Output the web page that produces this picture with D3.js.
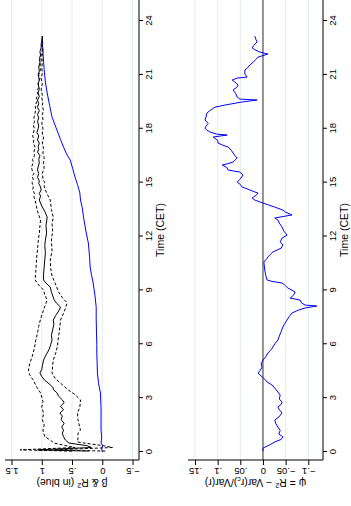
<!DOCTYPE html>
<html>
<head>
<meta charset="utf-8">
<script src="https://cdn.jsdelivr.net/npm/d3@7"></script>
<style>
  html, body { margin: 0; padding: 0; background: #fff; }
  svg { display: block; }
  text { font-family: "Liberation Sans", Arial, Helvetica, sans-serif; fill: #000; }
</style>
</head>
<body>
<svg id="chart" width="351" height="506"></svg>
<script>
// Tick values and labels
const hourTicks = [0, 3, 6, 9, 12, 15, 18, 21, 24];
const betaTicks = [-0.5, 0, 0.5, 1, 1.5];
const betaTickLabels = ["\u2212.5", "0", ".5", "1", "1.5"];
const psiTicks = [-0.1, -0.05, 0, 0.05, 0.1, 0.15];
const psiTickLabels = ["\u2212.1", "\u2212.05", "0", ".05", ".1", ".15"];

// Intraday beta estimate, [hour, value]
const beta = [[0.05,0.22],[0.12,1.07],[0.25,0.18],[0.35,0.25],[0.5,0.55],[0.67,0.61],[0.85,0.64],[1.05,0.66],[1.22,0.64],[1.39,0.67],[1.6,0.63],[1.8,0.68],[2.0,0.66],[2.17,0.70],[2.35,0.64],[2.55,0.69],[2.75,0.63],[2.9,0.66],[3.1,0.72],[3.3,0.75],[3.45,0.80],[3.62,0.82],[3.8,0.88],[4.0,0.95],[4.2,1.0],[4.4,1.03],[4.6,1.0],[4.8,0.99],[5.12,0.97],[5.4,0.93],[5.7,0.88],[6.0,0.85],[6.24,0.83],[6.5,0.84],[6.8,0.82],[7.1,0.80],[7.35,0.81],[7.6,0.77],[7.85,0.72],[8.07,0.69],[8.3,0.76],[8.5,0.80],[8.63,0.81],[8.9,0.84],[9.19,0.86],[9.4,0.93],[9.58,0.97],[9.9,0.97],[10.3,0.96],[10.7,0.95],[11.1,0.94],[11.5,0.95],[11.8,0.94],[12.2,0.92],[12.6,0.93],[13.08,0.91],[13.4,0.95],[13.7,1.0],[14.03,1.04],[14.25,1.02],[14.4,1.04],[14.6,1.01],[14.76,1.02],[14.95,1.05],[15.1,1.04],[15.3,1.07],[15.5,1.05],[15.7,1.07],[15.87,1.06],[16.1,1.04],[16.3,1.05],[16.5,1.03],[16.7,1.07],[16.85,1.05],[17.0,1.06],[17.2,1.04],[17.37,1.07],[17.6,1.05],[17.8,1.08],[18.0,1.06],[18.2,1.05],[18.4,1.07],[18.6,1.05],[18.8,1.07],[19.0,1.04],[19.2,1.07],[19.4,1.05],[19.6,1.07],[19.8,1.04],[20.0,1.06],[20.2,1.04],[20.5,1.06],[20.7,1.04],[21.0,1.06],[21.2,1.04],[21.44,1.05],[21.7,1.03],[21.9,1.04],[22.1,1.02],[22.3,1.03],[22.5,1.01],[22.7,1.01],[22.9,1.0],[23.16,0.99]];

// Upper confidence bound of beta
const betaUpper = [[0.05,0.5],[0.12,1.36],[0.25,0.45],[0.35,0.6],[0.5,0.8],[0.67,0.86],[0.85,0.95],[1.06,0.97],[1.22,0.98],[1.5,0.96],[1.8,0.99],[2.17,0.97],[2.5,1.0],[2.8,0.98],[3.05,1.0],[3.29,1.02],[3.6,1.08],[4.0,1.14],[4.3,1.2],[4.57,1.22],[4.9,1.2],[5.3,1.16],[5.8,1.12],[6.2,1.1],[6.63,1.07],[7.0,1.05],[7.4,1.02],[7.91,0.97],[8.2,0.94],[8.46,0.91],[8.75,0.95],[9.02,0.97],[9.3,1.05],[9.58,1.11],[10.0,1.1],[10.5,1.09],[11.0,1.08],[11.25,1.07],[11.7,1.06],[12.2,1.04],[12.6,1.03],[12.92,1.02],[13.3,1.06],[13.7,1.09],[14.03,1.11],[14.2,1.13],[14.4,1.12],[14.6,1.15],[14.76,1.14],[15.0,1.16],[15.2,1.14],[15.35,1.16],[15.5,1.13],[15.7,1.16],[15.87,1.17],[16.1,1.14],[16.3,1.15],[16.5,1.12],[16.7,1.13],[16.98,1.11],[17.2,1.14],[17.4,1.13],[17.6,1.15],[17.76,1.14],[18.0,1.12],[18.2,1.14],[18.4,1.12],[18.6,1.13],[18.88,1.11],[19.1,1.10],[19.3,1.11],[19.5,1.08],[19.7,1.09],[19.9,1.06],[20.1,1.08],[20.3,1.05],[20.55,1.06],[20.8,1.03],[21.0,1.05],[21.3,1.02],[21.5,1.03],[21.8,1.01],[22.0,1.02],[22.38,0.99],[22.6,1.0],[22.8,0.99],[23.16,0.99]];

// Lower confidence bound of beta
const betaLower = [[0.05,-0.05],[0.12,0.78],[0.25,-0.17],[0.35,-0.02],[0.5,0.3],[0.56,0.41],[0.8,0.40],[1.06,0.40],[1.22,0.36],[1.5,0.38],[1.8,0.40],[2.17,0.41],[2.5,0.37],[2.9,0.36],[3.2,0.45],[3.45,0.56],[3.8,0.68],[4.1,0.78],[4.4,0.83],[4.8,0.82],[5.12,0.81],[5.5,0.77],[5.9,0.74],[6.24,0.73],[6.7,0.71],[7.0,0.70],[7.35,0.69],[7.8,0.63],[8.3,0.58],[8.6,0.66],[8.9,0.72],[9.41,0.78],[9.8,0.83],[10.2,0.85],[10.69,0.86],[11.2,0.83],[11.8,0.84],[12.3,0.82],[12.7,0.83],[13.08,0.81],[13.5,0.84],[14.03,0.86],[14.3,0.90],[14.59,0.94],[14.8,0.96],[15.0,0.95],[15.2,0.98],[15.53,0.99],[15.8,0.96],[16.1,0.97],[16.4,0.96],[16.65,0.98],[16.9,0.97],[17.2,0.99],[17.5,0.97],[17.76,0.99],[18.0,0.98],[18.3,1.0],[18.5,0.98],[18.8,0.99],[19.0,0.97],[19.3,0.99],[19.5,0.98],[19.7,1.0],[19.9,0.99],[20.2,1.01],[20.5,0.99],[20.8,1.01],[21.1,0.99],[21.4,1.0],[21.7,0.99],[22.0,1.0],[22.3,0.98],[22.6,0.99],[22.9,0.99],[23.16,0.99]];

// R-squared through the day
const rSquared = [[0.0,0.0],[0.2,0.01],[0.35,-0.01],[0.5,0.02],[0.8,0.01],[1.22,0.02],[2.0,0.02],[2.5,0.02],[3.29,0.03],[3.8,0.06],[4.4,0.08],[5.0,0.085],[5.5,0.09],[6.0,0.09],[6.63,0.095],[7.4,0.1],[8.07,0.10],[8.7,0.12],[9.41,0.15],[9.9,0.18],[10.3,0.20],[10.9,0.21],[11.64,0.23],[12.3,0.27],[13.08,0.31],[13.6,0.33],[14.03,0.36],[14.42,0.37],[14.9,0.41],[15.31,0.45],[15.8,0.49],[16.26,0.53],[16.6,0.59],[16.98,0.64],[17.4,0.69],[17.76,0.73],[18.2,0.78],[18.65,0.83],[19.3,0.87],[19.99,0.91],[20.6,0.94],[21.3,0.96],[22.0,0.975],[22.6,0.985],[23.16,0.99]];

// psi = R^2 - Var(r_c)/Var(r)
const psi = [[0.05,0.0],[0.22,0.0],[0.4,-0.015],[0.56,-0.026],[0.7,-0.04],[0.84,-0.044],[1.0,-0.035],[1.2,-0.038],[1.39,-0.033],[1.6,-0.028],[1.78,-0.026],[1.95,-0.035],[2.17,-0.042],[2.35,-0.036],[2.51,-0.033],[2.65,-0.04],[2.78,-0.042],[2.95,-0.036],[3.17,-0.038],[3.34,-0.033],[3.5,-0.028],[3.73,-0.02],[3.9,-0.009],[4.05,-0.004],[4.18,0.002],[4.4,0.011],[4.55,0.006],[4.73,0.002],[4.9,0.004],[5.12,0.0],[5.3,-0.006],[5.51,-0.011],[5.7,-0.018],[5.85,-0.022],[6.05,-0.027],[6.24,-0.033],[6.45,-0.036],[6.7,-0.04],[6.96,-0.044],[7.15,-0.048],[7.35,-0.053],[7.55,-0.058],[7.74,-0.064],[7.9,-0.078],[8.02,-0.093],[8.13,-0.119],[8.18,-0.093],[8.3,-0.085],[8.46,-0.082],[8.57,-0.06],[8.75,-0.068],[8.91,-0.071],[9.13,-0.055],[9.3,-0.048],[9.41,-0.042],[9.5,-0.02],[9.58,-0.009],[9.85,-0.006],[10.13,-0.004],[10.35,-0.003],[10.58,-0.002],[10.75,-0.008],[10.86,-0.011],[11.0,-0.016],[11.14,-0.022],[11.35,-0.04],[11.53,-0.044],[11.7,-0.038],[11.91,-0.042],[12.08,-0.053],[12.3,-0.046],[12.53,-0.042],[12.75,-0.036],[12.92,-0.033],[13.03,-0.026],[13.2,-0.064],[13.35,-0.05],[13.47,-0.044],[13.64,-0.026],[13.76,-0.012],[13.86,0.0],[14.03,0.018],[14.14,0.024],[14.3,0.015],[14.42,0.011],[14.48,0.018],[14.6,0.03],[14.7,0.04],[14.75,0.046],[14.9,0.05],[15.03,0.057],[15.2,0.05],[15.42,0.044],[15.59,0.051],[15.7,0.077],[15.85,0.08],[15.98,0.09],[16.07,0.075],[16.15,0.066],[16.3,0.06],[16.37,0.057],[16.5,0.062],[16.65,0.066],[16.8,0.07],[16.98,0.077],[17.1,0.09],[17.2,0.099],[17.35,0.1],[17.54,0.110],[17.65,0.079],[17.7,0.102],[17.82,0.117],[17.95,0.125],[18.04,0.128],[18.2,0.124],[18.3,0.121],[18.49,0.128],[18.7,0.125],[18.87,0.124],[19.05,0.115],[19.2,0.106],[19.32,0.084],[19.49,0.046],[19.6,0.013],[19.65,0.051],[19.77,0.057],[19.95,0.06],[20.16,0.066],[20.3,0.058],[20.43,0.055],[20.6,0.062],[20.71,0.068],[20.82,0.057],[20.88,0.035],[21.05,0.04],[21.27,0.04],[21.4,0.034],[21.55,0.029],[21.7,0.022],[21.85,0.016],[21.99,0.011],[22.16,-0.011],[22.27,0.007],[22.4,0.018],[22.5,0.024],[22.65,0.02],[22.83,0.013],[23.0,0.016],[23.16,0.018]];

// The figure is laid out landscape (W x H) and turned a quarter turn onto the page.
const W = 506, H = 351;
const svg = d3.select("#chart");
const root = svg.append("g").attr("transform", `translate(0,${W}) rotate(-90)`);

const plotX0 = 46, plotX1 = 506;
const x = d3.scaleLinear().domain([0, 24]).range([54, 485]);

const gridColor = "#e3eced";
const tickFont = 9.5, titleFont = 10.5;

function drawPanel(cfg) {
  const g = root.append("g");
  const y = cfg.y;

  // horizontal grid at each value tick
  g.append("g").selectAll("line").data(cfg.ticks).join("line")
    .attr("x1", plotX0).attr("x2", plotX1)
    .attr("y1", d => y(d)).attr("y2", d => y(d))
    .attr("stroke", gridColor).attr("stroke-width", 1);

  if (cfg.zeroLine) {
    g.append("line")
      .attr("x1", plotX0).attr("x2", plotX1)
      .attr("y1", y(0)).attr("y2", y(0))
      .attr("stroke", "#333").attr("stroke-width", 1);
  }

  // series
  const line = d3.line().x(d => x(d[0])).y(d => y(d[1]));
  cfg.series.forEach(s => {
    g.append("path").datum(s.data)
      .attr("d", line)
      .attr("fill", "none")
      .attr("stroke", s.color)
      .attr("stroke-width", 1)
      .attr("stroke-dasharray", s.dash || null)
      .attr("stroke-linejoin", "round");
  });

  // value axis
  const ya = g.append("g").attr("transform", `translate(${plotX0},0)`)
    .call(d3.axisLeft(y).tickValues(cfg.ticks)
      .tickFormat((d, i) => cfg.tickLabels[i]).tickSize(5));
  ya.select(".domain").remove();
  ya.selectAll(".tick line").attr("stroke", "#000");
  ya.selectAll(".tick text")
    .attr("x", null).attr("dy", null)
    .attr("text-anchor", "middle")
    .attr("font-size", tickFont)
    .attr("transform", "translate(-8,0) rotate(-90)");
  g.append("line")
    .attr("x1", plotX0).attr("x2", plotX0)
    .attr("y1", cfg.top).attr("y2", cfg.bottom)
    .attr("stroke", "#000").attr("stroke-width", 1);

  const title = g.append("text")
    .attr("transform", `translate(27,${(cfg.top + cfg.bottom) / 2}) rotate(-90)`)
    .attr("text-anchor", "middle")
    .attr("font-size", titleFont);
  cfg.title(title);

  // time axis
  const xa = g.append("g").attr("transform", `translate(0,${cfg.bottom})`)
    .call(d3.axisBottom(x).tickValues(hourTicks).tickFormat(d3.format("d")).tickSize(4));
  xa.select(".domain").remove();
  xa.selectAll(".tick line").attr("stroke", "#000");
  xa.selectAll(".tick text").attr("font-size", tickFont).attr("y", 6);
  g.append("line")
    .attr("x1", plotX0).attr("x2", plotX1)
    .attr("y1", cfg.bottom).attr("y2", cfg.bottom)
    .attr("stroke", "#000").attr("stroke-width", 1);
  g.append("text")
    .attr("x", (plotX0 + plotX1) / 2).attr("y", cfg.bottom + 25)
    .attr("text-anchor", "middle")
    .attr("font-size", titleFont)
    .text("Time (CET)");
}

// Panel 1: beta with confidence band, R-squared in blue
drawPanel({
  top: 5, bottom: 139,
  y: d3.scaleLinear().domain([-0.5, 1.5]).range([132.5, 11.5]),
  ticks: betaTicks, tickLabels: betaTickLabels,
  series: [
    { data: rSquared, color: "#0000ff" },
    { data: betaUpper, color: "#000", dash: "3,2" },
    { data: betaLower, color: "#000", dash: "3,2" },
    { data: beta, color: "#000" }
  ],
  title: t => {
    t.append("tspan").text("\u03b2 & R");
    t.append("tspan").attr("font-size", 7).attr("dy", -4).text("2");
    t.append("tspan").attr("dy", 4).text(" (in blue)");
  }
});

// Panel 2: psi
drawPanel({
  top: 188, bottom: 323,
  y: d3.scaleLinear().domain([-0.1, 0.15]).range([308.3, 195]),
  ticks: psiTicks, tickLabels: psiTickLabels,
  zeroLine: true,
  series: [{ data: psi, color: "#0000ff" }],
  title: t => {
    t.append("tspan").text("\u03c8 = R");
    t.append("tspan").attr("font-size", 7).attr("dy", -4).text("2");
    t.append("tspan").attr("dy", 4).text(" \u2212 Var(r");
    t.append("tspan").attr("font-size", 7).attr("dy", 2).text("c");
    t.append("tspan").attr("dy", -2).text(")/Var(r)");
  }
});
</script>
</body>
</html>
